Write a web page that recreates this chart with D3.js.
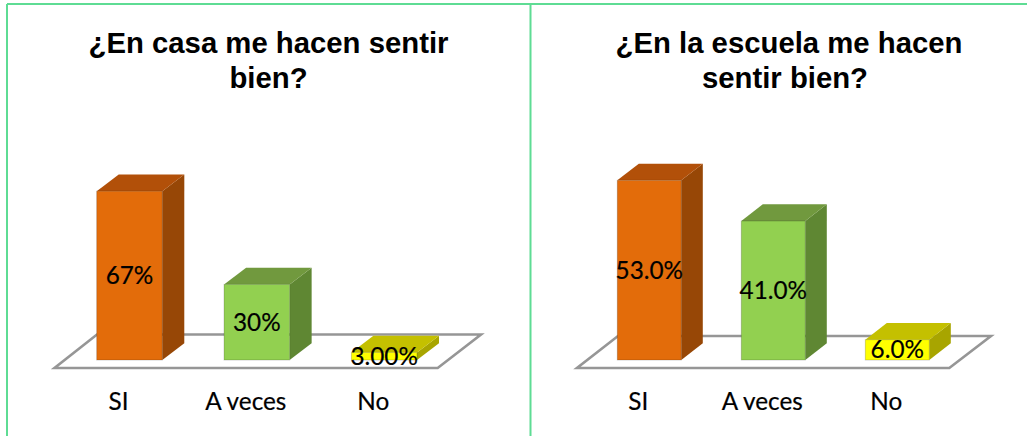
<!DOCTYPE html>
<html><head><meta charset="utf-8">
<script src="https://cdn.jsdelivr.net/npm/d3@7/dist/d3.min.js"></script>
<style>html,body{margin:0;padding:0;background:#fff;overflow:hidden}svg{display:block}</style>
</head><body><svg id="c" width="1027" height="436"></svg>
<script>
const categories = ["SI", "A veces", "No"];
const homeValues = [67, 30, 3];
const homeLabels = ["67%", "30%", "3.00%"];
const schoolValues = [53, 41, 6];
const schoolLabels = ["53.0%", "41.0%", "6.0%"];
const homeTitle = ["¿En casa me hacen sentir", "bien?"];
const schoolTitle = ["¿En la escuela me hacen", "sentir bien?"];
const faceColors = ["#E36C0A", "#92D050", "#FFFF00"];
const topColors = ["#B25009", "#71993E", "#C4C000"];
const sideColors = ["#974706", "#5F8733", "#A8A500"];

const svg = d3.select("#c");
const border = "#5EDC94";
const labelFont = "Lato, 'Noto Sans', sans-serif";
[[7, 4, 1027, 4], [7, 4, 7, 436], [530.5, 4, 530.5, 436]].forEach(([x1, y1, x2, y2]) =>
  svg.append("line").attr("x1", x1).attr("y1", y1).attr("x2", x2).attr("y2", y2)
     .attr("stroke", border).attr("stroke-width", 2));

function panel(o) {
  const g = svg.append("g");
  const x = d3.scaleBand().domain(categories).range(o.xRange).paddingInner(o.pad).paddingOuter(0);
  const y = d3.scaleLinear().domain([0, 100]).range([360, 360 - o.pxPerPct * 100]);
  const dx = o.dx, dy = 16.7;

  g.selectAll("text.t").data(o.title).join("text").attr("class", "t")
    .attr("x", (d, i) => o.titleX[i]).attr("y", (d, i) => 53 + i * 35)
    .attr("text-anchor", "middle").attr("font-family", "'Liberation Sans', Arial, sans-serif")
    .attr("font-weight", "bold").attr("font-size", 29.3).attr("fill", "#000").text(d => d);

  g.append("polygon")
    .attr("points", o.floor.map(p => p.join(",")).join(" "))
    .attr("fill", "#fff").attr("stroke", "#969696").attr("stroke-width", 2.6);

  const data = categories.map((c, i) => ({c, i, v: o.values[i], l: o.labels[i]}));
  const bars = g.selectAll("g.b").data(data).join("g").attr("class", "b");
  bars.append("polygon").attr("fill", d => sideColors[d.i])
    .attr("points", d => {
      const r = x(d.c) + x.bandwidth(), t = y(d.v), b = y(0);
      return [[r, t], [r + dx, t - dy], [r + dx, b - dy], [r, b]].join(" ");
    });
  bars.append("polygon").attr("fill", d => topColors[d.i])
    .attr("points", d => {
      const l = x(d.c), r = l + x.bandwidth(), t = y(d.v);
      return [[l, t], [l + dx, t - dy], [r + dx, t - dy], [r, t]].join(" ");
    });
  bars.append("rect").attr("x", d => x(d.c)).attr("y", d => y(d.v))
    .attr("width", x.bandwidth()).attr("height", d => y(0) - y(d.v))
    .attr("fill", d => faceColors[d.i]).attr("stroke", "#000").attr("stroke-opacity", .18).attr("stroke-width", 1);
  bars.append("text").attr("x", d => x(d.c) + x.bandwidth() / 2).attr("y", d => (y(d.v) + y(0)) / 2 + 8.5)
    .attr("text-anchor", "middle").attr("font-family", labelFont).attr("font-size", 24.3).attr("fill", "#000")
    .attr("stroke", "#000").attr("stroke-width", 0.2)
    .text(d => d.l);

  const xAxisScale = x.copy().range([o.xRange[0] - 11, o.xRange[1] - 11]);
  const ax = g.append("g").attr("transform", "translate(0,360)")
    .call(d3.axisBottom(xAxisScale).tickSize(0).tickPadding(32.5));
  ax.select(".domain").remove();
  ax.selectAll("text").attr("font-family", labelFont).attr("font-size", 24.3).attr("fill", "#000")
    .attr("stroke", "#000").attr("stroke-width", 0.2);
}

panel({values: homeValues, labels: homeLabels, title: homeTitle, titleX: [268.5, 268.5],
  xRange: [96.7, 417], pad: 0.485, pxPerPct: 2.52, dx: 22,
  floor: [[54.5, 368], [437.7, 368], [481, 334.5], [97, 334.5]]});
panel({values: schoolValues, labels: schoolLabels, title: schoolTitle, titleX: [789, 785],
  xRange: [617.3, 929.3], pad: 0.484, pxPerPct: 3.39, dx: 21.5,
  floor: [[577, 368], [949.3, 368], [991, 336], [618, 336]]});
</script></body></html>
